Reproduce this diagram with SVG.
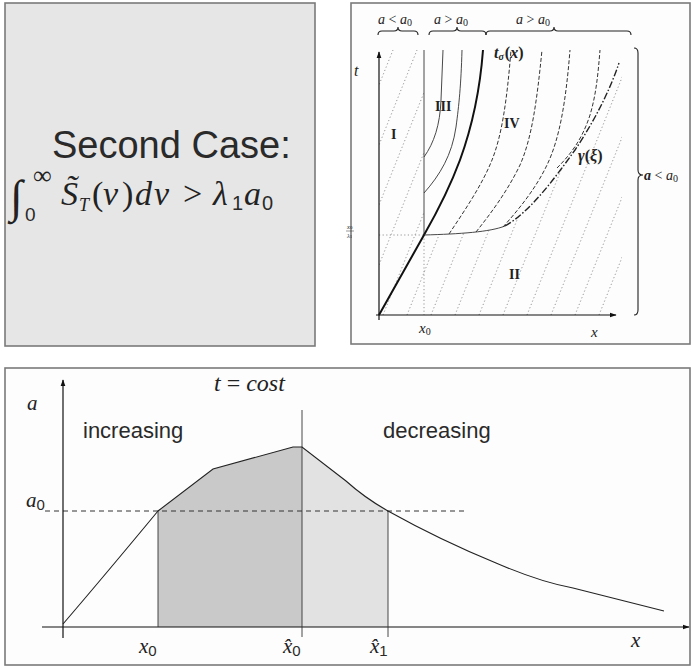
<svg xmlns="http://www.w3.org/2000/svg" width="692" height="668" viewBox="0 0 692 668">
<style>
.frame{stroke:#7a7a7a;stroke-width:1.6}
.ax{fill:none;stroke:#111;stroke-width:1.2}
.thin{fill:none;stroke:#333;stroke-width:0.9}
.thick{fill:none;stroke:#111;stroke-width:2}
.dash{fill:none;stroke:#333;stroke-width:1;stroke-dasharray:4 2}
.dot{fill:none;stroke:#8a8a8a;stroke-width:0.9;stroke-dasharray:1.2 2.4}
.gam{fill:none;stroke:#222;stroke-width:1.4;stroke-dasharray:7 2 1.5 2}
.brace{fill:none;stroke:#222;stroke-width:1.1}
.ser{font-family:"Liberation Serif","DejaVu Serif",serif;fill:#222}
.it{font-style:italic}
.bf{font-weight:bold}
.sans{font-family:"Liberation Sans","DejaVu Sans",sans-serif;fill:#2a2a2a}
</style>
<defs>
<marker id="arr" viewBox="0 0 10 10" refX="9" refY="5" markerWidth="7" markerHeight="7" orient="auto" markerUnits="userSpaceOnUse">
<path d="M0,1.5 L10,5 L0,8.5 Z" fill="#111"/>
</marker>
<clipPath id="dotclip">
<path d="M379,50 L424,50 L424,235 C460,234 490,232 505,226 C530,212 555,178 575,150 C595,120 610,90 619,63 L622,63 L622,315 L379,315 Z"/>
</clipPath>
</defs>

<g id="panel-case">
<rect x="5" y="3" width="310" height="343" class="frame" style="fill:#e6e6e6"/>
<text class="sans" x="52" y="158" font-size="38">Second Case:</text>
<g class="ser">
<text x="10" y="212" font-size="46">∫</text>
<text x="33" y="184" font-size="26">∞</text>
<text class="sans" x="25" y="221" font-size="19">0</text>
<text class="it" x="61" y="205" font-size="34">S̃</text>
<text class="it" x="79" y="211" font-size="18">T</text>
<text x="92" y="205" font-size="34">(</text>
<text class="it" x="103" y="205" font-size="34">ν</text>
<text x="122" y="205" font-size="34">)</text>
<text class="it" x="135" y="205" font-size="34">d</text>
<text class="it" x="154" y="205" font-size="34">ν</text>
<text x="183" y="205" font-size="34">&gt;</text>
<text class="it" x="213" y="205" font-size="34">λ</text>
<text class="sans" x="232" y="210" font-size="20">1</text>
<text class="it" x="244" y="205" font-size="34">a</text>
<text class="sans" x="262" y="210" font-size="20">0</text>
</g>
</g>

<g id="panel-characteristics">
<rect x="351" y="3" width="339" height="341" class="frame" style="fill:#fdfdfd"/>
<g id="dotted" clip-path="url(#dotclip)">
<path class="dot" d="M263,315 L369,50 M287,315 L393,50 M311,315 L417,50 M335,315 L441,50 M359,315 L465,50 M383,315 L489,50 M407,315 L513,50 M431,315 L537,50 M455,315 L561,50 M479,315 L585,50 M503,315 L609,50 M527,315 L633,50 M551,315 L657,50 M575,315 L681,50 M599,315 L705,50"/>
</g>
<g id="connectors">
<path class="dot" d="M379,235 L424,235 M424,235 L424,315"/>
<path class="ax" d="M379,320 L379,52" marker-end="url(#arr)"/>
<path class="ax" d="M376,315 L616,315" marker-end="url(#arr)"/>
<path class="thin" d="M424,50 L424,235"/>
<path class="thin" d="M424,157 C434,143 440,125 441,100 L443,50"/>
<path class="thin" d="M424,193 C440,175 452,155 456,127 C459,105 461,85 462,50"/>
<path class="thick" d="M379,315 L424,235 C436,214 450,187 460,160 C472,127 480,90 483,50"/>
<path class="dash" d="M449,234 C465,210 482,185 492,160 C502,135 507,100 511,50"/>
<path class="dash" d="M476,232 C492,212 508,190 520,165 C532,138 537,100 542,50"/>
<path class="dash" d="M503,227 C520,208 536,188 547,165 C560,138 566,100 570,50"/>
<path class="dash" d="M557,168 C570,155 582,140 590,115 C596,95 598,75 600,50"/>
<path class="thin" d="M424,235 C460,234 490,232 505,226"/>
<path class="gam" d="M505,226 C530,212 555,178 575,150 C595,120 610,90 619,63"/>
</g>
<g id="braces">
<path class="brace" d="M378,35 Q378,31 382,31 L394,31 Q398,31 398,27 Q398,31 402,31 L414,31 Q418,31 418,35"/>
<path class="brace" d="M429,35 Q429,31 433,31 L453,31 Q457,31 457,27 Q457,31 461,31 L482,31 Q486,31 486,35"/>
<path class="brace" d="M486,35 Q486,31 490,31 L550,31 Q554,31 554,27 Q554,31 558,31 L627,31 Q631,31 631,35"/>
<path class="brace" d="M634,48 Q638,48 638,53 L638,170 Q638,175 643,175 Q638,175 638,180 L638,310 Q638,315 634,315"/>
</g>
<g class="ser" font-size="14">
<text x="378" y="24"><tspan class="it">a</tspan> &lt; <tspan class="it">a</tspan><tspan font-size="10" dy="2">0</tspan></text>
<text x="434" y="24"><tspan class="it">a</tspan> &gt; <tspan class="it">a</tspan><tspan font-size="10" dy="2">0</tspan></text>
<text x="516" y="24"><tspan class="it">a</tspan> &gt; <tspan class="it">a</tspan><tspan font-size="10" dy="2">0</tspan></text>
<text x="644" y="180"><tspan class="it bf">a</tspan> &lt; <tspan class="it">a</tspan><tspan font-size="10" dy="2">0</tspan></text>
<text class="it" x="354" y="76" font-size="16">t</text>
<text x="419" y="333" font-size="15"><tspan class="it">x</tspan><tspan font-size="10" dy="2">0</tspan></text>
<text class="it" x="591" y="337" font-size="15">x</text>
<text x="494" y="58" font-size="16" class="bf"><tspan class="it">t</tspan><tspan font-size="10" dy="2" class="it">σ</tspan><tspan dy="-2" dx="1">(</tspan><tspan class="it">x</tspan>)</text>
<text x="578" y="161" font-size="16" class="bf"><tspan class="it">γ</tspan>(<tspan class="it">ξ</tspan>)</text>
<text x="435" y="111" font-size="14" class="bf">III</text>
<text x="391" y="139" font-size="14" class="bf">I</text>
<text x="504" y="128" font-size="14" class="bf">IV</text>
<text x="509" y="279" font-size="14" class="bf">II</text>
<text x="347" y="229" font-size="6.5"><tspan class="it">x</tspan><tspan font-size="5">0</tspan></text>
<path d="M346,231 L354,231" stroke="#333" stroke-width="0.5"/>
<text x="347" y="238" font-size="6.5"><tspan class="it">λ</tspan><tspan font-size="5">1</tspan></text>
</g>
</g>

<g id="panel-profile">
<rect x="5" y="368" width="685" height="297" class="frame" style="fill:#fdfdfd"/>
<path d="M158,627 L158,511 L213,469 L293,447 L302,447 L302,627 Z" fill="#c9c9c9"/>
<path d="M302,627 L302,447 L346,481 Q365,498 388,511 L388,627 Z" fill="#e2e2e2"/>
<g id="profile-lines">
<path d="M45,511 L464,511" fill="none" stroke="#333" stroke-width="1" stroke-dasharray="5 4"/>
<path class="ax" d="M63,638 L63,380" marker-end="url(#arr)"/>
<path class="ax" d="M42,627 L689,627" marker-end="url(#arr)"/>
<path class="thin" d="M158,511 L158,627 M302,410 L302,637 M388,511 L388,637"/>
<path fill="none" stroke="#222" stroke-width="1.1" d="M63,624 Q105,575 158,511 L213,469 L293,447 L302,447 L346,481 Q365,498 388,511 Q440,540 496,563 Q540,582 573,588 L664,611"/>
</g>
<g class="ser">
<text class="it" x="27" y="410" font-size="21">a</text>
<text x="26" y="507" font-size="21"><tspan class="it">a</tspan><tspan class="sans" font-size="15" dy="3">0</tspan></text>
<text x="214" y="391" font-size="24"><tspan class="it">t</tspan> = <tspan class="it">cost</tspan></text>
<text x="139" y="653" font-size="21"><tspan class="it">x</tspan><tspan class="sans" font-size="15" dy="3">0</tspan></text>
<text x="283" y="653" font-size="21"><tspan class="it">x̂</tspan><tspan class="sans" font-size="15" dy="3">0</tspan></text>
<text x="370" y="653" font-size="21"><tspan class="it">x̂</tspan><tspan class="sans" font-size="15" dy="3">1</tspan></text>
<text class="it" x="631" y="647" font-size="21">x</text>
</g>
<text class="sans" x="83" y="438" font-size="22">increasing</text>
<text class="sans" x="383" y="438" font-size="22">decreasing</text>
</g>
</svg>
